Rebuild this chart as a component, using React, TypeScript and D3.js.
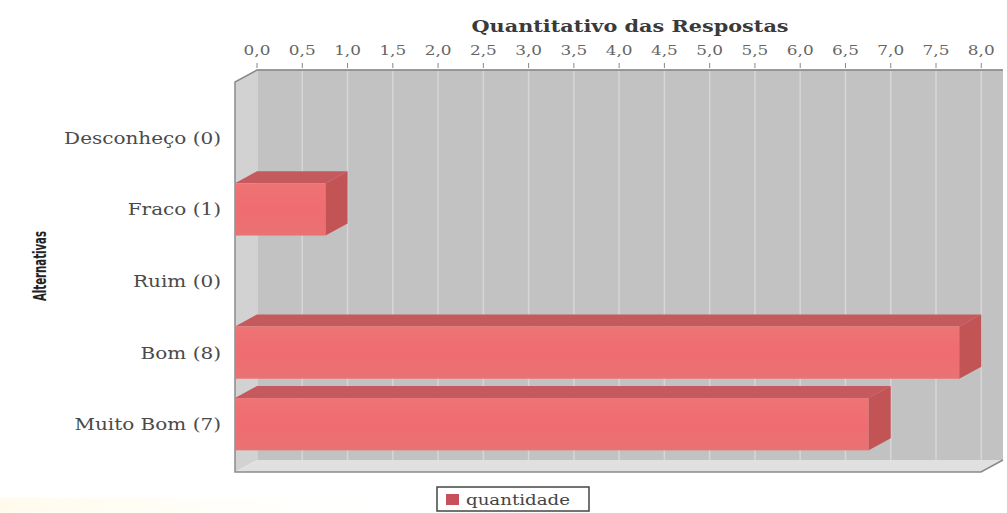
import React from "react";
import * as d3 from "d3";

const categories = ["Desconheço (0)", "Fraco (1)", "Ruim (0)", "Bom (8)", "Muito Bom (7)"];
const values = [0, 1, 0, 8, 7];
const tickValues = [0, 0.5, 1, 1.5, 2, 2.5, 3, 3.5, 4, 4.5, 5, 5.5, 6, 6.5, 7, 7.5, 8];
const chartTitle = "Quantitativo das Respostas";
const axisLabel = "Alternativas";
const seriesName = "quantidade";

const W = 1007;
const H = 513;
const backLeft = 257;
const backRight = 1003;
const backTop = 70;
const backBottom = 460;
const dx = 22;
const dy = 12;
const SX = 1.25;
const serif = "'DejaVu Serif', serif";

export default function App() {
  const x = d3.scaleLinear().domain([0, 8.24]).range([backLeft, backRight]);
  const y = d3
    .scaleBand<string>()
    .domain(categories)
    .range([102, 460])
    .paddingInner(0.27)
    .paddingOuter(0.135);
  const bw = y.bandwidth();
  const fmt = (v: number) => d3.format(".1f")(v).replace(".", ",");
  const x0 = x(0);

  const pts = (arr: [number, number][]) => arr.map((p) => p.join(",")).join(" ");

  return (
    <svg
      width={W}
      height={H}
      style={{ position: "absolute", left: 0, top: 0, background: "#fff" }}
    >
      <defs>
        <linearGradient id="yl" x1="0" x2="1" y1="0" y2="0">
          <stop offset="0" stopColor="#fffaea" stopOpacity="0.9" />
          <stop offset="1" stopColor="#fffdf4" stopOpacity="0" />
        </linearGradient>
        <linearGradient id="front" x1="0" x2="0" y1="0" y2="1">
          <stop offset="0" stopColor="#ee7474" />
          <stop offset="0.5" stopColor="#f06c70" />
          <stop offset="1" stopColor="#e97272" />
        </linearGradient>
      </defs>
      <rect x={0} y={498} width={380} height={15} fill="url(#yl)" />

      {/* title */}
      <text
        transform={`translate(${(x(0) + x(8.24)) / 2},32) scale(1.3,1)`}
        textAnchor="middle"
        fontFamily={serif}
        fontWeight="bold"
        fontSize={16}
        fill="#3a3a3a"
      >
        {chartTitle}
      </text>

      {/* tick labels & tick marks */}
      {tickValues.map((v) => (
        <g key={v}>
          <text
            transform={`translate(${x(v)},55) scale(1.25,1)`}
            textAnchor="middle"
            fontFamily={serif}
            fontSize={13.5}
            fill="#666"
          >
            {fmt(v)}
          </text>
          <line x1={x(v)} x2={x(v)} y1={63} y2={68} stroke="#888" strokeWidth={1} />
        </g>
      ))}

      {/* back wall */}
      <rect x={backLeft} y={backTop} width={backRight - backLeft} height={backBottom - backTop} fill="#c2c2c2" />
      {tickValues.map((v) => (
        <line
          key={"g" + v}
          x1={x(v)}
          x2={x(v)}
          y1={backTop}
          y2={backBottom}
          stroke="#d6d6d6"
          strokeWidth={1.5}
        />
      ))}
      <line x1={backLeft} x2={backRight} y1={backTop} y2={backTop} stroke="#999" strokeWidth={1} />

      {/* left wall */}
      <polygon
        points={pts([
          [backLeft - dx, backTop + dy],
          [backLeft, backTop],
          [backLeft, backBottom],
          [backLeft - dx, backBottom + dy],
        ])}
        fill="#d2d2d2"
      />
      {/* floor */}
      <polygon
        points={pts([
          [backLeft - dx, backBottom + dy],
          [backLeft, backBottom],
          [backRight, backBottom],
          [backRight - dx, backBottom + dy],
        ])}
        fill="#e0e0e0"
      />
      {/* outline */}
      <polyline
        points={pts([
          [backRight, backTop],
          [backLeft, backTop],
          [backLeft - dx, backTop + dy],
          [backLeft - dx, backBottom + dy],
          [backRight - dx, backBottom + dy],
          [backRight, backBottom],
        ])}
        fill="none"
        stroke="#8a8a8a"
        strokeWidth={1.5}
      />

      {/* bars */}
      {categories.map((c, i) => {
        const v = values[i];
        if (v <= 0) return null;
        const yb = y(c)!;
        const xv = x(v);
        return (
          <g key={c}>
            <polygon
              points={pts([
                [x0 - dx, yb],
                [x0, yb - dy],
                [xv, yb - dy],
                [xv - dx, yb],
              ])}
              fill="#c45a5e"
            />
            <rect x={x0 - dx} y={yb} width={xv - x0} height={bw} fill="url(#front)" />
            <polygon
              points={pts([
                [xv - dx, yb],
                [xv, yb - dy],
                [xv, yb + bw - dy],
                [xv - dx, yb + bw],
              ])}
              fill="#c25456"
            />
          </g>
        );
      })}

      {/* category labels */}
      {categories.map((c) => (
        <text
          key={"l" + c}
          transform={`translate(221,${y(c)! + bw / 2 + 6}) scale(${SX},1)`}
          textAnchor="end"
          fontFamily={serif}
          fontSize={16}
          fill="#4a4a4a"
        >
          {c}
        </text>
      ))}

      {/* axis label */}
      <text
        transform={`translate(46,266) rotate(-90)`}
        textAnchor="middle"
        fontFamily="'Liberation Sans Narrow', 'DejaVu Sans Condensed', 'DejaVu Sans', sans-serif"
        fontWeight="bold"
        fontSize={17}
        textLength={70}
        lengthAdjust="spacingAndGlyphs"
        fill="#222"
      >
        {axisLabel}
      </text>

      {/* legend */}
      <rect x={437} y={487} width={152} height={24} fill="#fff" stroke="#444" strokeWidth={1.5} />
      <rect x={446} y={494} width={13} height={11} fill="#c8505a" />
      <text
        transform={`translate(466,505) scale(1.3,1)`}
        fontFamily={serif}
        fontSize={14}
        fill="#444"
      >
        {seriesName}
      </text>
    </svg>
  );
}
